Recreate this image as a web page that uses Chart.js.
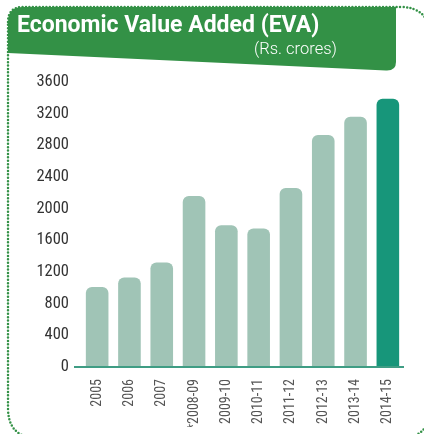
<!DOCTYPE html>
<html lang="en">
<head>
    <meta charset="UTF-8">
    <title>Economic Value Added (EVA)</title>
    <script src="https://cdn.jsdelivr.net/npm/chart.js@4.4.1/dist/chart.umd.min.js"></script>
    <style>
        html, body {
            margin: 0;
            padding: 0;
            background: #fff;
        }
        .panel {
            position: relative;
            width: 424px;
            height: 434px;
            overflow: hidden;
            font-family: Roboto, "Open Sans", sans-serif;
        }
        .panel svg, .panel canvas {
            position: absolute;
            left: 0;
            top: 0;
        }
        .title {
            position: absolute;
            left: 17px;
            top: 9px;
            color: #fff;
            font-weight: bold;
            font-size: 23px;
            line-height: 32px;
            white-space: nowrap;
        }
        .unit {
            position: absolute;
            left: 254px;
            top: 39px;
            color: #fff;
            font-weight: 300;
            font-size: 16.5px;
            line-height: 20px;
            white-space: nowrap;
        }
    </style>
</head>
<body>
    <div class="panel">
        <canvas id="evaChart" width="424" height="434"></canvas>
        <svg width="424" height="434">
            <path d="M8,22 Q8,7 23,7 L396,7 L396,62 Q396,71 386,70.5 L8,53 Z" fill="#339146"/>
            <path d="M8,22 Q8,7 23,7 L400,7 Q430,7 430,37 L430,408 Q430,438 400,438 L38,438 Q8,438 8,408 Z"
                  fill="none" stroke="#339146" stroke-width="2.5" stroke-linecap="round" stroke-dasharray="0 3.4"/>
        </svg>
        <div class="title">Economic Value Added (EVA)</div>
        <div class="unit">(Rs. crores)</div>
    </div>

    <script>
        // EVA values (Rs. crores)
        const years = ['2005', '2006', '2007', '*2008-09', '2009-10', '2010-11', '2011-12', '2012-13', '2013-14', '2014-15'];
        const evaValues = [1010, 1130, 1320, 2160, 1790, 1750, 2260, 2930, 3160, 3390];
        const yTicks = [0, 400, 800, 1200, 1600, 2000, 2400, 2800, 3200, 3600];

        const lightBar = '#a0c4b6';
        const darkBar = '#17967a';

        // base line runs a little left of the first bar, like the print
        const baseLine = {
            id: 'baseLine',
            afterDatasetsDraw(chart) {
                const { ctx, chartArea, scales } = chart;
                const y = scales.y.getPixelForValue(0);
                ctx.save();
                ctx.strokeStyle = '#3f9d84';
                ctx.lineWidth = 2;
                ctx.beginPath();
                ctx.moveTo(chartArea.left - 7, y);
                ctx.lineTo(chartArea.right, y);
                ctx.stroke();
                ctx.restore();
            }
        };

        new Chart(document.getElementById('evaChart'), {
            type: 'bar',
            data: {
                labels: years,
                datasets: [{
                    data: evaValues,
                    backgroundColor: years.map((y, i) => i === years.length - 1 ? darkBar : lightBar),
                    borderRadius: { topLeft: 6, topRight: 6, bottomLeft: 0, bottomRight: 0 },
                    borderSkipped: false,
                    barPercentage: 0.7,
                    categoryPercentage: 1
                }]
            },
            options: {
                responsive: false,
                animation: false,
                layout: {
                    padding: { top: 82, left: 0, right: 20, bottom: 7 }
                },
                plugins: {
                    legend: { display: false },
                    tooltip: { enabled: false }
                },
                scales: {
                    x: {
                        grid: { display: false },
                        border: { display: false },
                        ticks: {
                            maxRotation: 90,
                            minRotation: 90,
                            autoSkip: false,
                            padding: 4,
                            color: '#555',
                            font: { family: "'Roboto Condensed', Roboto", size: 14 }
                        },
                        afterFit(scale) { scale.height = 60; }
                    },
                    y: {
                        min: 0,
                        max: 3600,
                        grid: { display: false },
                        border: { display: false },
                        afterBuildTicks(scale) {
                            scale.ticks = yTicks.map(v => ({ value: v }));
                        },
                        ticks: {
                            padding: 4,
                            color: '#333',
                            font: { family: "'Roboto Condensed', Roboto", size: 16.5 },
                            callback: v => String(v)
                        },
                        afterFit(scale) { scale.width = 81; }
                    }
                }
            },
            plugins: [baseLine]
        });
    </script>
</body>
</html>
